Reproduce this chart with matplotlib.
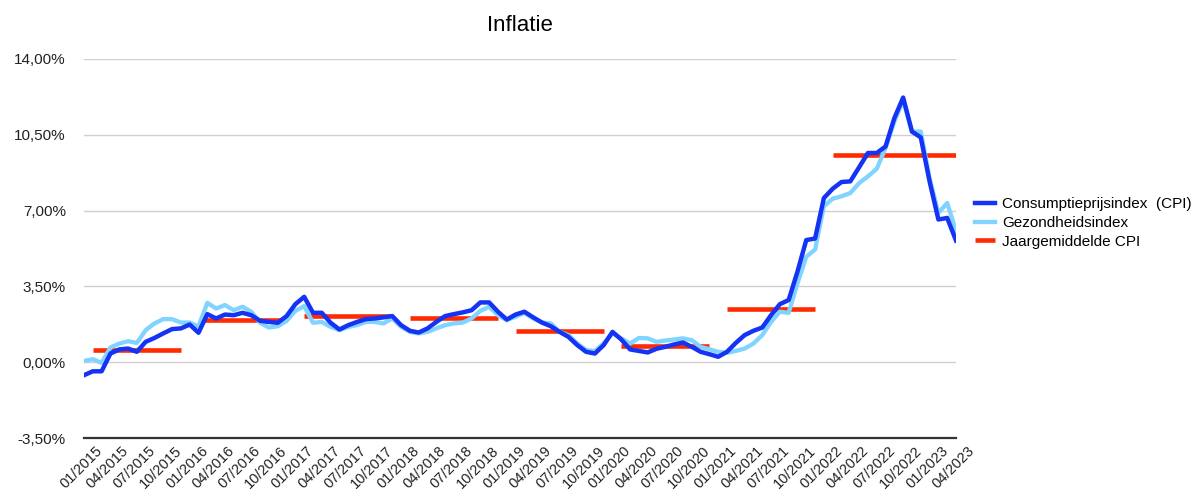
import numpy as np
import matplotlib
matplotlib.use('Agg')
import matplotlib.pyplot as plt
from matplotlib.ticker import FuncFormatter

plt.rcParams['font.family'] = ['Liberation Sans', 'DejaVu Sans']

# monthly inflation (%), 01/2015 .. 04/2023
cpi_2015 = [-0.60, -0.42, -0.42, 0.40, 0.59, 0.63, 0.48, 0.94, 1.12, 1.33, 1.53, 1.56]
cpi_2016 = [1.74, 1.36, 2.22, 2.02, 2.20, 2.17, 2.28, 2.17, 1.91, 1.86, 1.82, 2.13]
cpi_2017 = [2.68, 3.02, 2.28, 2.28, 1.82, 1.51, 1.71, 1.86, 1.99, 2.02, 2.07, 2.13]
cpi_2018 = [1.71, 1.45, 1.37, 1.56, 1.86, 2.13, 2.22, 2.30, 2.40, 2.76, 2.76, 2.33]
cpi_2019 = [1.97, 2.20, 2.33, 2.07, 1.83, 1.66, 1.40, 1.17, 0.79, 0.48, 0.40, 0.79]
cpi_2020 = [1.40, 1.05, 0.59, 0.52, 0.45, 0.62, 0.71, 0.82, 0.91, 0.71, 0.48, 0.37]
cpi_2021 = [0.25, 0.48, 0.89, 1.25, 1.45, 1.60, 2.17, 2.68, 2.87, 4.18, 5.64, 5.71]
cpi_2022 = [7.58, 8.01, 8.32, 8.35, 9.00, 9.66, 9.66, 9.96, 11.27, 12.22, 10.65, 10.38]
cpi_2023 = [8.35, 6.59, 6.66, 5.62]

gez_2015 = [0.06, 0.14, -0.03, 0.68, 0.86, 0.97, 0.89, 1.48, 1.79, 1.99, 1.99, 1.83]
gez_2016 = [1.83, 1.65, 2.74, 2.48, 2.64, 2.40, 2.56, 2.33, 1.82, 1.60, 1.66, 1.91]
gez_2017 = [2.37, 2.59, 1.82, 1.86, 1.63, 1.48, 1.63, 1.71, 1.86, 1.86, 1.79, 2.02]
gez_2018 = [1.63, 1.40, 1.33, 1.40, 1.56, 1.71, 1.79, 1.83, 2.02, 2.37, 2.56, 2.17]
gez_2019 = [1.94, 2.10, 2.28, 2.02, 1.83, 1.79, 1.40, 1.25, 0.87, 0.56, 0.51, 0.87]
gez_2020 = [1.33, 1.10, 0.86, 1.12, 1.10, 0.94, 1.00, 1.05, 1.10, 1.02, 0.71, 0.60]
gez_2021 = [0.48, 0.43, 0.52, 0.63, 0.86, 1.25, 1.86, 2.33, 2.28, 3.64, 4.87, 5.20]
gez_2022 = [7.20, 7.55, 7.66, 7.81, 8.27, 8.58, 8.93, 9.89, 11.11, 12.10, 10.65, 10.65]
gez_2023 = [8.50, 6.89, 7.35, 6.05]

# yearly average CPI (shown Feb..Dec of each year)
years = [2015, 2016, 2017, 2018, 2019, 2020, 2021, 2022]
year_avg = [0.56, 1.97, 2.13, 2.05, 1.44, 0.74, 2.44, 9.59]

cpi = np.array(cpi_2015 + cpi_2016 + cpi_2017 + cpi_2018 + cpi_2019
               + cpi_2020 + cpi_2021 + cpi_2022 + cpi_2023)
gez = np.array(gez_2015 + gez_2016 + gez_2017 + gez_2018 + gez_2019
               + gez_2020 + gez_2021 + gez_2022 + gez_2023)

avg = []
for a in year_avg:
    avg += [np.nan] + [a] * 11
avg += [year_avg[-1]] * 4
avg = np.array(avg)

x = np.arange(len(cpi))
tick_labels = [f'{m:02d}/{y}' for y in range(2015, 2024) for m in (1, 4, 7, 10)][:34]

fig = plt.figure(figsize=(12.04, 4.98), dpi=100)
ax = fig.add_axes([84 / 1204, 1 - 438 / 498, (956 - 84) / 1204, (438 - 59) / 498])

l3, = ax.plot(x, avg, color='#ff2a00', lw=3.3, solid_capstyle='butt', zorder=2)
l2, = ax.plot(x, gez, color='#80d4ff', lw=3.1, zorder=3)
l1, = ax.plot(x, cpi, color='#1433f5', lw=3.2, zorder=4)

ax.set_xlim(0, len(cpi) - 1)
ax.set_ylim(-3.5, 14)
ax.set_yticks(np.arange(-3.5, 14.01, 3.5))
ax.yaxis.set_major_formatter(FuncFormatter(lambda v, p: f'{v:.2f}%'.replace('.', ',')))
ax.set_xticks(x[::3])
ax.set_xticklabels([])

# x labels, slightly right of the month they belong to
for xi, lab in zip(x[::3], tick_labels):
    ax.annotate(lab, (xi, 0), xycoords=ax.get_xaxis_transform(),
                xytext=(8, -4), textcoords='offset points',
                rotation=45, ha='right', va='top', rotation_mode='anchor',
                fontsize=10.5, color='#222222')

ax.grid(axis='y', color='#d0d0d0', lw=1)
ax.set_axisbelow(True)
for s in ['top', 'right', 'left']:
    ax.spines[s].set_visible(False)
ax.spines['bottom'].set_color('#333333')
ax.spines['bottom'].set_linewidth(1.6)
ax.tick_params(axis='y', length=0, pad=13, labelsize=11, labelcolor='#222222')
ax.tick_params(axis='x', length=0)

ax.set_title('Inflatie', fontsize=16, pad=20)

fig.legend([l1, l2, l3], ['Consumptieprijsindex  (CPI)', 'Gezondheidsindex', 'Jaargemiddelde CPI'],
           loc='center left', bbox_to_anchor=(975 / 1204, 1 - 223 / 498),
           frameon=False, fontsize=11, handlelength=1.3, handletextpad=0.5,
           labelspacing=0.3, borderpad=0, borderaxespad=0)

fig.savefig('out.png', dpi=100)
